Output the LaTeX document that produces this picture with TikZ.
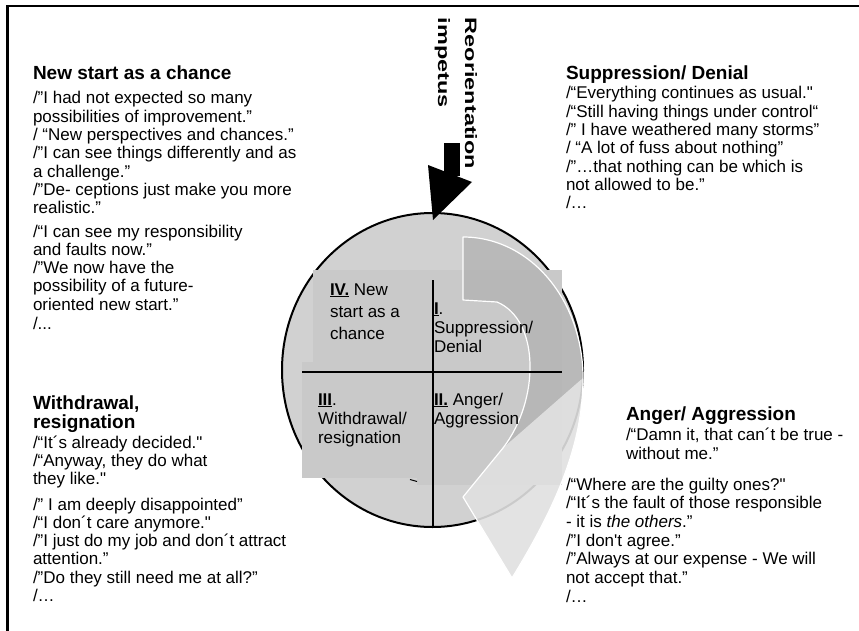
\documentclass[tikz,border=0pt]{standalone}
\usepackage{fontspec}
\setmainfont{Liberation Sans}[Ligatures=TeXOff]
\definecolor{circlegray}{gray}{0.82}
\definecolor{panelgray}{gray}{0.79}
\definecolor{arrowdark}{gray}{0.70}
\definecolor{arrowlight}{gray}{0.88}
\newcommand{\fs}{\rule{0pt}{13pt}}
\begin{document}
\begin{tikzpicture}[x=1pt,y=-1pt,
  body/.style={anchor=north west, inner sep=0pt, outer sep=0pt, align=left,
    font=\fontsize{17}{18.3}\selectfont},
  ttl/.style={anchor=base west, inner sep=0pt, outer sep=0pt,
    font=\bfseries\fontsize{19}{19.5}\selectfont},
  plabel/.style={anchor=north west, inner sep=0pt, outer sep=0pt, align=left,
    font=\fontsize{17}{19}\selectfont},
  vtext/.style={anchor=base west, inner sep=0pt, outer sep=0pt, rotate=-90,
    font=\bfseries\fontsize{16.5}{16.5}\selectfont},
]
\useasboundingbox (0,0) rectangle (859,631);
\fill[white] (0,0) rectangle (859,631);
% frame (top and left edges)
\draw[line width=2.4pt] (7.5,631) -- (7.5,6) -- (859,6);

% circle
\draw[line width=2pt, fill=circlegray] (432.5,370) ellipse [x radius=150.5, y radius=157];

% quadrant panels
\fill[panelgray] (313,270) rectangle (433,372);
\fill[panelgray] (433,270) rectangle (562,372);
\fill[panelgray] (302,362) rectangle (433,478);
\fill[panelgray] (417,372) rectangle (562,485);

% circular arrow
\path[fill=arrowdark, fill opacity=0.75]
  (463,237) .. controls (530,237) and (583,300) .. (583,378)
  -- (503,448)
  .. controls (540,400) and (540,320) .. (497,302)
  -- (463,300) -- cycle;
\path[fill=arrowlight, fill opacity=0.9]
  (583,378) .. controls (583,440) and (560,500) .. (512,578)
  -- (463,497) -- (503,448) -- cycle;
\draw[white, line width=1.2pt, line join=round]
  (463,237) .. controls (530,237) and (583,300) .. (583,378)
  .. controls (583,440) and (560,500) .. (512,578)
  -- (463,497) -- (503,448)
  .. controls (540,400) and (540,320) .. (497,302)
  -- (463,300) -- cycle;

% cross lines
\draw[line width=1.3pt] (302,372) -- (562,372);
\draw[line width=1.3pt] (433,280) -- (433,527);
\draw[line width=1pt] (410,479.5) -- (417,481.5);

% panel labels (north = first baseline - 13)
\node[plabel] (p4) at (330,282) {\fs\underline{\textbf{IV.}} New};
\node[plabel] (p4b) at (330,304) {\fs start as a};
\node[plabel] (p4c) at (330,326) {\fs chance};
\node[plabel] (p1) at (434,301) {\fs\underline{\textbf{I}}.\\Suppression/\\Denial};
\node[plabel] (p2) at (434,392) {\fs\underline{\textbf{II.}} Anger/\\Aggression};
\node[plabel] (p3) at (318,392) {\fs\underline{\textbf{III}}.\\Withdrawal/\\resignation};

% reorientation impetus arrow
\fill (444,143) rectangle (460,176);
\fill (428,165) -- (472,182) -- (433,220) -- cycle;
\node[vtext] (re1) at (465,18) {\scalebox{1.42}[1]{Reorientation}};
\node[vtext] (re2) at (438,18) {\scalebox{1.42}[1]{impetus}};

% New start block
\node[ttl] (t1) at (33,80) {New start as a chance};
\node[body] (b1a) at (33,91) {\fs/”I had not expected so many\\
possibilities of improvement.”\\
/ “New perspectives and chances.”\\
/”I can see things differently and as\\
a challenge.”\\
/”De- ceptions just make you more\\
realistic.”};
\node[body] (b1b) at (33,224) {\fs/“I can see my responsibility\\
and faults now.”\\
/”We now have the\\
possibility of a future-\\
oriented new start.”};
\node[body] (b1c) at (33,316) {\fs/...};

% Suppression block
\node[ttl] (t2) at (566,80) {Suppression/ Denial};
\node[body] (b2) at (566,86) {\fs/“Everything continues as usual."\\
/“Still having things under control“\\
/” I have weathered many storms”\\
/ “A lot of fuss about nothing”\\
/”…that nothing can be which is\\
not allowed to be.”\\
/…};

% Withdrawal block
\node[ttl] (t3) at (33,409) {Withdrawal,};
\node[ttl] (t3b) at (33,428) {resignation};
\node[body] (b3a) at (33,435) {\fs/“It´s already decided."\\
/“Anyway, they do what\\
they like."};
\node[body] (b3b) at (33,497) {\fs/” I am deeply disappointed”\\
/“I don´t care anymore."\\
/”I just do my job and don´t attract\\
attention.”\\
/”Do they still need me at all?”\\
/…};

% Anger block
\node[ttl] (t4) at (626,420.5) {Anger/ Aggression};
\node[body, font=\fontsize{17}{18.5}\selectfont] (b4a) at (626,427.5) {\fs/“Damn it, that can´t be true -\\
without me.”};
\node[body, font=\fontsize{17}{18.7}\selectfont] (b4b) at (566,477) {\fs/“Where are the guilty ones?"\\
/“It´s the fault of those responsible\\
- it is \textit{the others}.”\\
/”I don't agree.”\\
/”Always at our expense - We will\\
not accept that.”\\
/…};
\end{tikzpicture}
\end{document}
